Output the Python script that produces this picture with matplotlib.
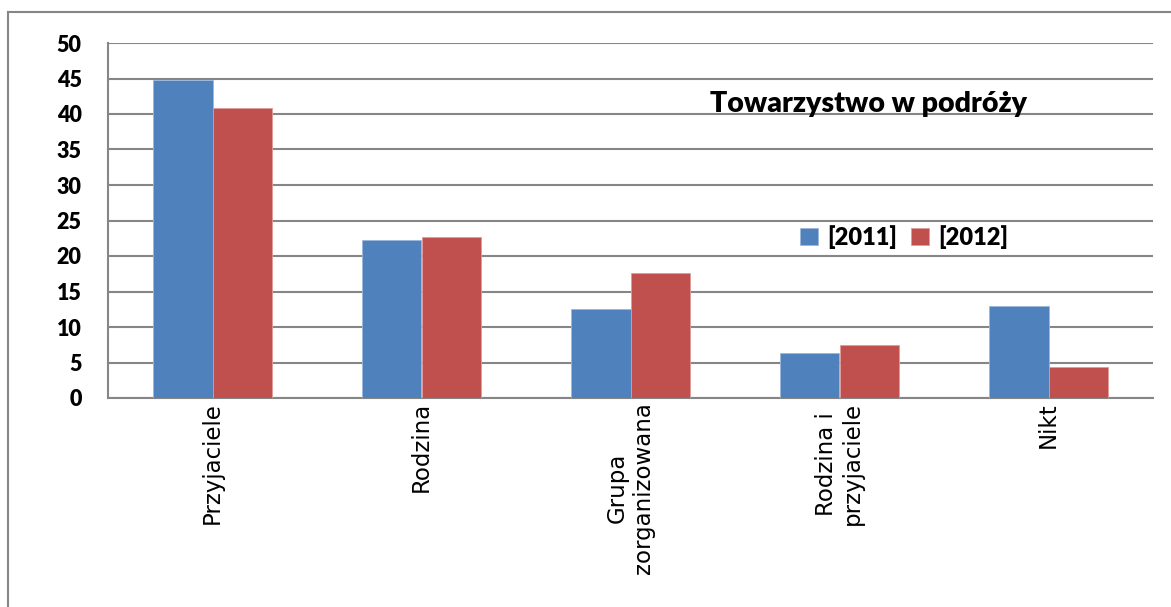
import matplotlib.pyplot as plt
import numpy as np
from matplotlib.lines import Line2D

# data
categories = ['Przyjaciele', 'Rodzina', 'Grupa\nzorganizowana', 'Rodzina i\nprzyjaciele', 'Nikt']
series_names = ['[2011]', '[2012]']
values_2011 = [44.8, 22.2, 12.5, 6.3, 13.0]
values_2012 = [40.8, 22.7, 17.6, 7.5, 4.4]
y_ticks = [0, 5, 10, 15, 20, 25, 30, 35, 40, 45, 50]

blue = '#4F81BD'
red = '#C0504D'
grid_gray = '#868686'
bold_font = 'Lato'
bold_weight = 'heavy'

W, H = 1171, 607
fig = plt.figure(figsize=(W / 100, H / 100), dpi=100)
fig.patch.set_facecolor('white')

# plot area in pixel coords: x 108..1153, y 43..398
ax = fig.add_axes([108 / W, 1 - 398 / H, (1153 - 108) / W, (398 - 43) / H])

x = np.arange(len(categories))
bw = 0.2857
ax.bar(x - bw / 2, values_2011, bw, color=blue, edgecolor='#9DB7DA', linewidth=0.6,
       label=series_names[0], zorder=3)
ax.bar(x + bw / 2, values_2012, bw, color=red, edgecolor='#DE9A98', linewidth=0.6,
       label=series_names[1], zorder=3)

ax.set_xlim(-0.5, len(categories) - 0.5)
ax.set_ylim(0, 50)
ax.set_yticks(y_ticks)
ax.set_yticklabels([str(t) for t in y_ticks], fontfamily=bold_font, fontweight=bold_weight,
                   fontsize=15.5)
ax.set_xticks(x)
ax.set_xticklabels(categories, rotation=90, fontfamily='DejaVu Sans', fontsize=16.5,
                   multialignment='center')
ax.tick_params(axis='y', length=0, pad=19)
ax.tick_params(axis='x', length=0, pad=3)

ax.yaxis.grid(True, color=grid_gray, linewidth=1.5, zorder=0)
ax.set_axisbelow(True)
for side in ['top', 'right']:
    ax.spines[side].set_visible(False)
for side in ['left', 'bottom']:
    ax.spines[side].set_color(grid_gray)
    ax.spines[side].set_linewidth(1.5)

# title inside plot area
fig.text(868 / W, 1 - 104 / H, 'Towarzystwo w podróży', ha='center', va='center',
         fontfamily=bold_font, fontweight=bold_weight, fontsize=20.5)

leg = ax.legend(loc='center', bbox_to_anchor=(904 / W, 1 - 237 / H),
                bbox_transform=fig.transFigure, ncol=2, frameon=False,
                handlelength=0.75, handleheight=0.75, handletextpad=0.4,
                columnspacing=0.6,
                prop={'family': bold_font, 'weight': bold_weight, 'size': 17})

# outer chart frame (top and left edges visible)
fig.add_artist(Line2D([8 / W, 1.0], [1 - 12 / H, 1 - 12 / H], color=grid_gray,
                      linewidth=1.5, transform=fig.transFigure))
fig.add_artist(Line2D([8 / W, 8 / W], [1 - 12 / H, 0.0], color=grid_gray,
                      linewidth=1.5, transform=fig.transFigure))

fig.savefig('out.png', dpi=100, facecolor='white')
